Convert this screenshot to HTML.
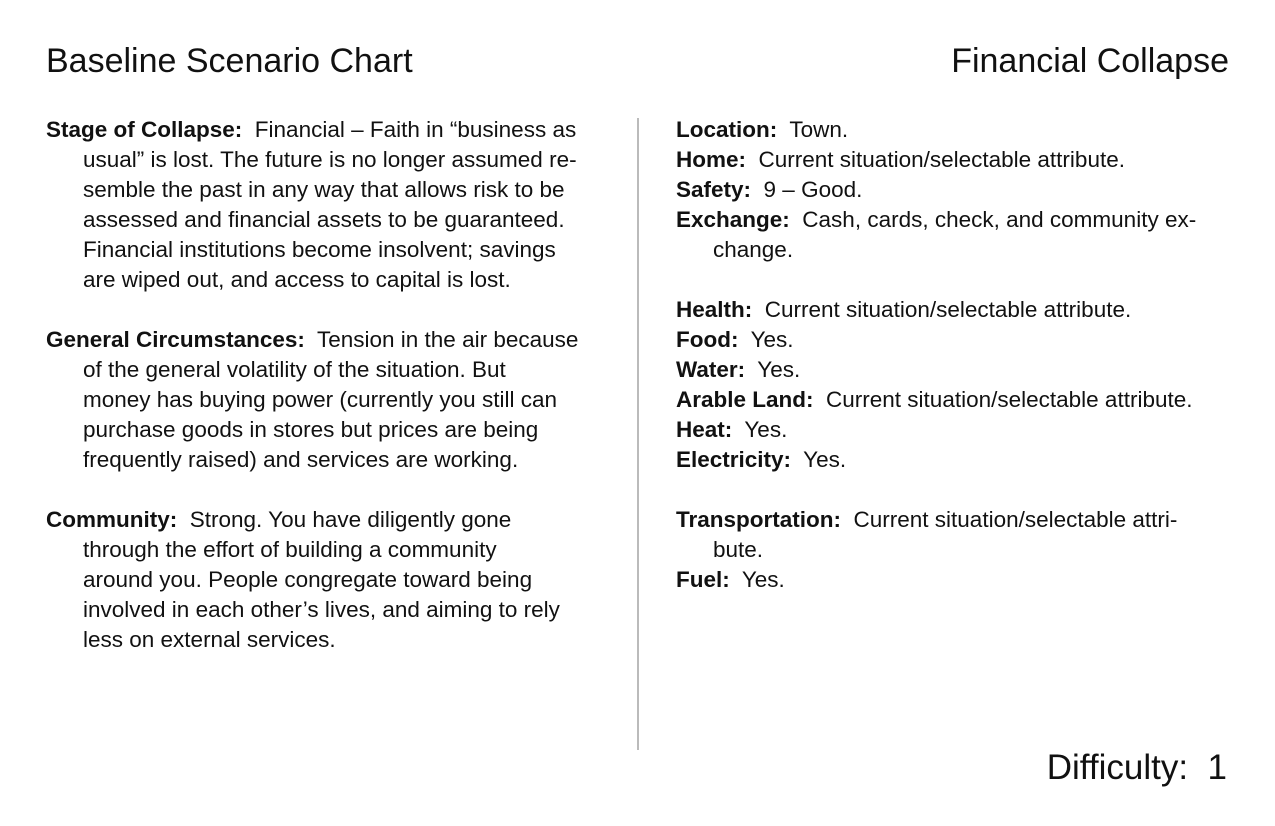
<!DOCTYPE html>
<html><head><meta charset="utf-8"><style>
body{margin:0;width:1275px;height:826px;background:#fff;position:relative;overflow:hidden;font-family:"Liberation Sans",sans-serif;color:#111}
.l{position:absolute;white-space:nowrap;font-size:22.5px;line-height:30px}
.t{position:absolute;white-space:nowrap;font-size:34px}
b{font-weight:bold}
</style></head><body>
<div class="t" style="left:46px;top:42px">Baseline Scenario Chart</div>
<div class="t" style="right:46px;top:42px">Financial Collapse</div>
<div style="position:absolute;left:637px;top:118px;width:2px;height:632px;background:#bbb"></div>
<div>
<div class="l" style="left:46px;top:115px"><b>Stage of Collapse:</b>&nbsp; Financial – Faith in “business as</div>
<div class="l" style="left:83px;top:145px">usual” is lost. The future is no longer assumed re-</div>
<div class="l" style="left:83px;top:175px">semble the past in any way that allows risk to be</div>
<div class="l" style="left:83px;top:205px">assessed and financial assets to be guaranteed.</div>
<div class="l" style="left:83px;top:235px">Financial institutions become insolvent; savings</div>
<div class="l" style="left:83px;top:265px">are wiped out, and access to capital is lost.</div>
<div class="l" style="left:46px;top:325px"><b>General Circumstances:</b>&nbsp; Tension in the air because</div>
<div class="l" style="left:83px;top:355px">of the general volatility of the situation. But</div>
<div class="l" style="left:83px;top:385px">money has buying power (currently you still can</div>
<div class="l" style="left:83px;top:415px">purchase goods in stores but prices are being</div>
<div class="l" style="left:83px;top:445px">frequently raised) and services are working.</div>
<div class="l" style="left:46px;top:505px"><b>Community:</b>&nbsp; Strong. You have diligently gone</div>
<div class="l" style="left:83px;top:535px">through the effort of building a community</div>
<div class="l" style="left:83px;top:565px">around you. People congregate toward being</div>
<div class="l" style="left:83px;top:595px">involved in each other’s lives, and aiming to rely</div>
<div class="l" style="left:83px;top:625px">less on external services.</div>
</div>
<div>
<div class="l" style="left:676px;top:115px"><b>Location:</b>&nbsp; Town.</div>
<div class="l" style="left:676px;top:145px"><b>Home:</b>&nbsp; Current situation/selectable attribute.</div>
<div class="l" style="left:676px;top:175px"><b>Safety:</b>&nbsp; 9 – Good.</div>
<div class="l" style="left:676px;top:205px"><b>Exchange:</b>&nbsp; Cash, cards, check, and community ex-</div>
<div class="l" style="left:713px;top:235px">change.</div>
<div class="l" style="left:676px;top:295px"><b>Health:</b>&nbsp; Current situation/selectable attribute.</div>
<div class="l" style="left:676px;top:325px"><b>Food:</b>&nbsp; Yes.</div>
<div class="l" style="left:676px;top:355px"><b>Water:</b>&nbsp; Yes.</div>
<div class="l" style="left:676px;top:385px"><b>Arable Land:</b>&nbsp; Current situation/selectable attribute.</div>
<div class="l" style="left:676px;top:415px"><b>Heat:</b>&nbsp; Yes.</div>
<div class="l" style="left:676px;top:445px"><b>Electricity:</b>&nbsp; Yes.</div>
<div class="l" style="left:676px;top:505px"><b>Transportation:</b>&nbsp; Current situation/selectable attri-</div>
<div class="l" style="left:713px;top:535px">bute.</div>
<div class="l" style="left:676px;top:565px"><b>Fuel:</b>&nbsp; Yes.</div>
</div>
<div class="t" style="right:48px;top:748px;font-size:35px">Difficulty:&nbsp; 1</div>
</body></html>
